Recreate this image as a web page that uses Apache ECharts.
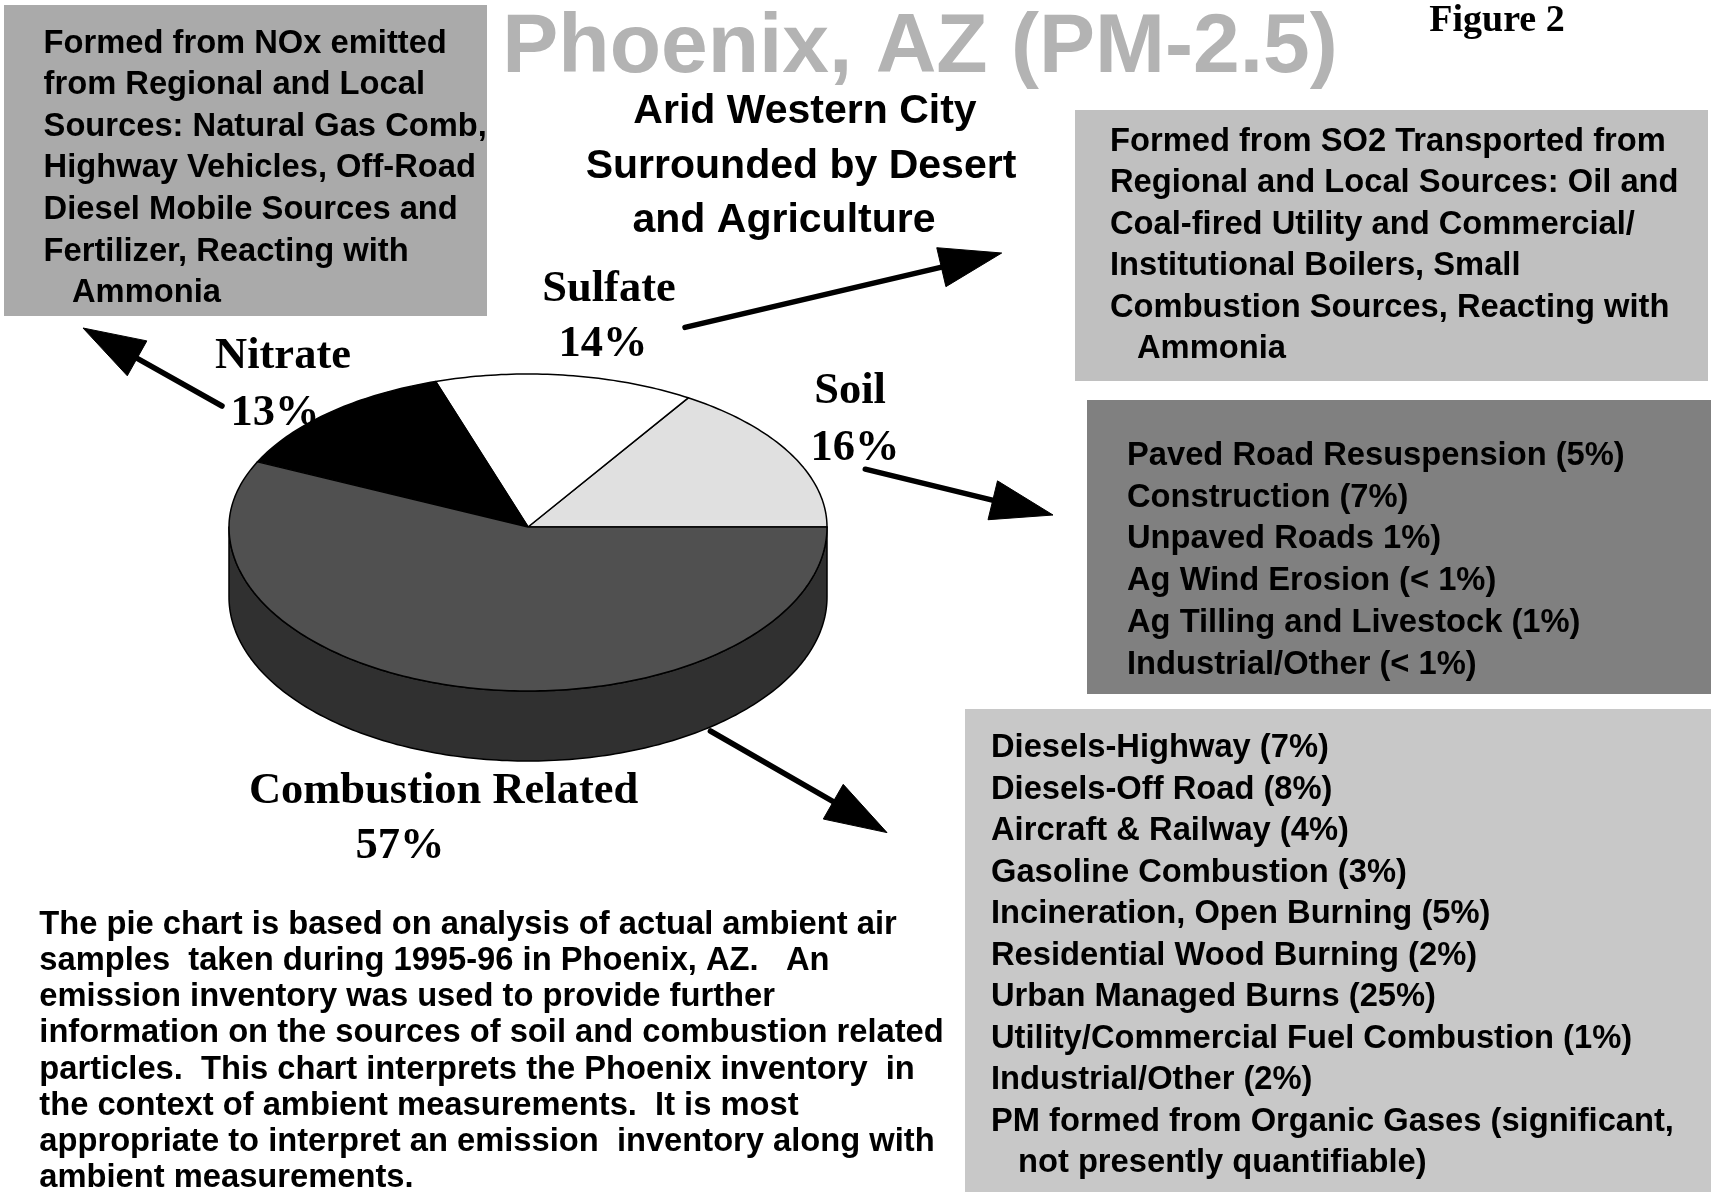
<!DOCTYPE html>
<html><head><meta charset="utf-8">
<script src="https://cdn.jsdelivr.net/npm/echarts@6/dist/echarts.min.js"></script>
<style>html,body{margin:0;padding:0;background:#fff}#c{width:1711px;height:1192px}</style>
</head><body><div id="c"></div>
<script>
// ---------------- data ----------------
const sliceNames = ['Soil', 'Sulfate', 'Nitrate', 'Combustion Related'];
const sliceValues = [16, 14, 13, 57];
const titleText = 'Phoenix, AZ (PM-2.5)';
const figureText = 'Figure 2';
const subtitleLines = ['Arid Western City', 'Surrounded by Desert', 'and Agriculture'];
const nitrateNote = ['Formed from NOx emitted', 'from Regional and Local', 'Sources: Natural Gas Comb,',
  'Highway Vehicles, Off-Road', 'Diesel Mobile Sources and', 'Fertilizer, Reacting with', '  Ammonia'];
const sulfateNote = ['Formed from SO2 Transported from', 'Regional and Local Sources: Oil and',
  'Coal-fired Utility and Commercial/', 'Institutional Boilers, Small',
  'Combustion Sources, Reacting with', '  Ammonia'];
const soilSources = ['Paved Road Resuspension (5%)', 'Construction (7%)', 'Unpaved Roads 1%)',
  'Ag Wind Erosion (< 1%)', 'Ag Tilling and Livestock (1%)', 'Industrial/Other (< 1%)'];
const combustionSources = ['Diesels-Highway (7%)', 'Diesels-Off Road (8%)', 'Aircraft & Railway (4%)',
  'Gasoline Combustion (3%)', 'Incineration, Open Burning (5%)', 'Residential Wood Burning (2%)',
  'Urban Managed Burns (25%)', 'Utility/Commercial Fuel Combustion (1%)', 'Industrial/Other (2%)',
  'PM formed from Organic Gases (significant,', '  not presently quantifiable)'];
const footnote = ['The pie chart is based on analysis of actual ambient air',
  'samples  taken during 1995-96 in Phoenix, AZ.   An',
  'emission inventory was used to provide further',
  'information on the sources of soil and combustion related',
  'particles.  This chart interprets the Phoenix inventory  in',
  'the context of ambient measurements.  It is most',
  'appropriate to interpret an emission  inventory along with',
  'ambient measurements.'];

// ---------------- style ----------------
const topColors = ['#e0e0e0', '#ffffff', '#000000', '#505050'];
const sideColors = ['#b0b0b0', '#d0d0d0', '#000000', '#303030'];
const PIE = {cx: 528, cy: 527, rx: 299, ryTop: 153, ryBot: 164, depth: 70};
const SANS = 'bold 32.7px "Liberation Sans", Arial, sans-serif';
const SERIF = 'bold 44.5px "Liberation Serif", "Times New Roman", serif';

function ellPt(t, dy) {
  const r = t * Math.PI / 180;
  const sn = Math.sin(r);
  const ry = sn > 0 ? PIE.ryTop : PIE.ryBot;
  return [PIE.cx + PIE.rx * Math.cos(r), PIE.cy - ry * sn + (dy || 0)];
}
function arc(a0, a1, dy) {
  const pts = [];
  const n = Math.max(2, Math.ceil(Math.abs(a1 - a0)));
  for (let i = 0; i <= n; i++) pts.push(ellPt(a0 + (a1 - a0) * i / n, dy));
  return pts;
}

function txt(text, x, y, font, opts) {
  opts = opts || {};
  return {
    type: 'text', z: 20,
    style: {
      text: text, x: x, y: y, font: font, fill: opts.fill || '#000',
      textAlign: opts.align || 'left', textVerticalAlign: 'middle',
      align: opts.align || 'left', verticalAlign: 'middle'
    }
  };
}
function lines(arr, x, y0, step, font, indentX) {
  return arr.map(function (s, i) {
    const ind = s.indexOf('  ') === 0;
    return txt(ind ? s.trim() : s, ind ? indentX : x, y0 + i * step, font);
  });
}
function arrow(x1, y1, x2, y2) {
  const dx = x2 - x1, dy = y2 - y1, L = Math.hypot(dx, dy), ux = dx / L, uy = dy / L;
  const hl = 62, hw = 20;
  const bx = x2 - ux * hl, by = y2 - uy * hl;
  return [
    {type: 'line', z: 25, shape: {x1: x1, y1: y1, x2: bx + ux * 8, y2: by + uy * 8},
      style: {stroke: '#000', lineWidth: 5.5, lineCap: 'round'}},
    {type: 'polygon', z: 25, shape: {points: [[x2, y2], [bx - uy * hw, by + ux * hw], [bx + uy * hw, by - ux * hw]]},
      style: {fill: '#000', stroke: '#000', lineWidth: 1, lineJoin: 'round'}}
  ];
}

const total = sliceValues.reduce(function (a, b) { return a + b; }, 0);
function pct(i) { return sliceValues[i] + '%'; }

let g = [];
// boxes
g.push({type: 'rect', z: 5, shape: {x: 4, y: 5, width: 483, height: 311}, style: {fill: '#aaaaaa'}});
g.push({type: 'rect', z: 5, shape: {x: 1075, y: 110, width: 633, height: 271}, style: {fill: '#c0c0c0'}});
g.push({type: 'rect', z: 5, shape: {x: 1087, y: 400, width: 624, height: 294}, style: {fill: '#808080'}});
g.push({type: 'rect', z: 5, shape: {x: 965, y: 709, width: 746, height: 483}, style: {fill: '#c8c8c8'}});
// titles
g.push(txt(titleText, 920, 49, 'bold 84px "Liberation Sans", Arial, sans-serif', {align: 'center', fill: '#b3b3b3'}));
g.push(txt(figureText, 1497, 21, 'bold 38px "Liberation Serif", "Times New Roman", serif', {align: 'center'}));
const subX = [805, 801, 784], subY = [112, 167, 221];
subtitleLines.forEach(function (s, i) {
  g.push(txt(s, subX[i], subY[i], 'bold 41px "Liberation Sans", Arial, sans-serif', {align: 'center'}));
});
// notes
g = g.concat(lines(nitrateNote, 43.6, 43.5, 41.65, SANS, 72));
g = g.concat(lines(sulfateNote, 1110, 141.7, 41.5, SANS, 1137));
g = g.concat(lines(soilSources, 1127, 456, 41.7, SANS, 1127));
g = g.concat(lines(combustionSources, 991, 748.4, 41.46, SANS, 1018));
g = g.concat(lines(footnote, 39.3, 925, 36.15, SANS, 39.3));
// slice labels
g.push(txt(sliceNames[1], 609, 289, SERIF, {align: 'center'}));
g.push(txt(pct(1), 603, 344.5, SERIF, {align: 'center'}));
g.push(txt(sliceNames[2], 283, 356, SERIF, {align: 'center'}));
g.push(txt(pct(2), 275, 413, SERIF, {align: 'center'}));
g.push(txt(sliceNames[0], 850, 391.5, SERIF, {align: 'center'}));
g.push(txt(pct(0), 855, 448, SERIF, {align: 'center'}));
g.push(txt(sliceNames[3], 443.6, 791, SERIF, {align: 'center'}));
g.push(txt(pct(3), 400, 846, SERIF, {align: 'center'}));
// arrows
g = g.concat(arrow(222, 406, 83, 328));
g = g.concat(arrow(685, 327.4, 1001.7, 253));
g = g.concat(arrow(865.3, 469.2, 1053, 515));
g = g.concat(arrow(710.4, 731, 887, 832.6));

const chart = echarts.init(document.getElementById('c'), null, {renderer: 'canvas'});
chart.setOption({
  backgroundColor: '#ffffff',
  animation: false,
  graphic: {elements: g},
  series: [{
    type: 'custom',
    coordinateSystem: 'none',
    z: 10,
    dimensions: ['value'],
    data: sliceValues.map(function (v, i) { return {name: sliceNames[i], value: [v]}; }),
    renderItem: function (params, api) {
      const i = params.dataIndex;
      let start = 0;
      for (let k = 0; k < i; k++) start += sliceValues[k];
      const a0 = start / total * 360, a1 = (start + api.value(0)) / total * 360;
      const children = [];
      const s = Math.max(a0, 180), e = Math.min(a1, 360);
      if (e > s) {
        const side = arc(s, e, 0).concat(arc(e, s, PIE.depth));
        children.push({type: 'polygon', shape: {points: side},
          style: {fill: sideColors[i], stroke: '#000', lineWidth: 1.5, lineJoin: 'round'}});
      }
      const pts = [[PIE.cx, PIE.cy]].concat(arc(a0, a1, 0));
      children.push({type: 'polygon', shape: {points: pts},
        style: {fill: topColors[i], stroke: '#000', lineWidth: 1.5, lineJoin: 'round'}});
      return {type: 'group', children: children};
    }
  }]
});
</script>
</body></html>
